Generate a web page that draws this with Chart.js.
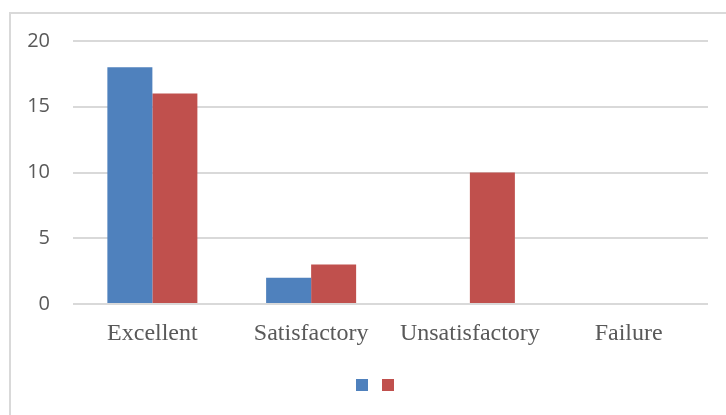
<!DOCTYPE html>
<html>
<head>
<meta charset="utf-8">
<script src="https://cdn.jsdelivr.net/npm/chart.js@4"></script>
<style>
  body { margin: 0; background: #fff; }
  #frame {
    position: absolute; left: 9px; top: 12px;
    width: 800px; height: 500px;
    border: 2px solid #d9d9d9; box-sizing: border-box;
  }
  #wrap { position: absolute; left: 0; top: 0; width: 726px; height: 415px; }
</style>
</head>
<body>
<div id="frame"></div>
<div id="wrap"><canvas id="chart"></canvas></div>
<script>
const categories = ["Excellent", "Satisfactory", "Unsatisfactory", "Failure"];
const series1 = [18, 2, 0, 0];
const series2 = [16, 3, 10, 0];
const yTicks = [0, 5, 10, 15, 20];

// the legend is centred under the plot in the original, nudge it right
const legendShift = {
  id: "legendShift",
  afterLayout(chart) {
    chart.legend.left += 46;
  },
};

const ctx = document.getElementById("chart");
new Chart(ctx, {
  type: "bar",
  data: {
    labels: categories,
    datasets: [
      { label: "", data: series1, backgroundColor: "#4F81BD" },
      { label: "", data: series2, backgroundColor: "#C0504D" },
    ],
  },
  plugins: [legendShift],
  options: {
    responsive: true,
    maintainAspectRatio: false,
    animation: false,
    categoryPercentage: 0.567,
    barPercentage: 1,
    layout: { padding: { left: 0, right: 18, top: 41, bottom: 14 } },
    plugins: {
      tooltip: { enabled: false },
      legend: {
        position: "bottom",
        labels: {
          boxWidth: 12,
          boxHeight: 12,
          font: { size: 8 },
          generateLabels: (chart) =>
            chart.data.datasets.map((ds, i) => ({
              text: "",
              fillStyle: ds.backgroundColor,
              strokeStyle: ds.backgroundColor,
              lineWidth: 0,
              datasetIndex: i,
            })),
        },
      },
    },
    scales: {
      x: {
        afterFit: (scale) => { scale.height = 65; },
        grid: { display: false, drawTicks: false },
        border: { display: false },
        ticks: {
          color: "#595959",
          padding: 15,
          font: { family: "'Liberation Serif', 'Times New Roman', serif", size: 24 },
        },
      },
      y: {
        min: 0,
        max: 20,
        afterBuildTicks: (scale) => { scale.ticks = yTicks.map((v) => ({ value: v })); },
        afterFit: (scale) => { scale.width = 73; },
        grid: { color: "#d9d9d9", lineWidth: 2, drawTicks: false },
        border: { display: false },
        ticks: {
          color: "#595959",
          padding: 23,
          font: { family: "'Open Sans', 'Noto Sans', sans-serif", size: 20 },
        },
      },
    },
  },
});
</script>
</body>
</html>
